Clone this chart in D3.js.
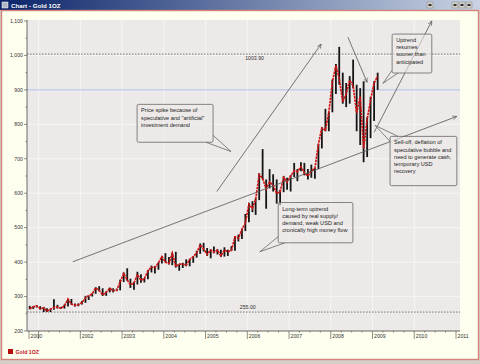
<!DOCTYPE html>
<html>
<head>
<meta charset="UTF-8">
<title>Chart - Gold 1OZ</title>
<script src="https://d3js.org/d3.v7.min.js"></script>
<style>
  body { margin: 0; background: #d4d0c8; }
  text { font-family: "Liberation Sans", Arial, sans-serif; }
</style>
</head>
<body>
<svg id="chart" width="480" height="364"></svg>
<script>
// monthly gold prices, Oct 2000 .. Feb 2009
var firstMonth = new Date(2000, 9, 15);
var closes = [
  265, 270, 273,
  265, 267, 258, 263, 268, 270, 266, 273, 293, 278, 274, 277,
  282, 297, 302, 308, 325, 318, 305, 312, 324, 317, 318, 342,
  367, 348, 334, 339, 364, 347, 352, 375, 385, 384, 398, 416,
  400, 396, 426, 387, 394, 394, 391, 408, 416, 426, 450, 438,
  422, 435, 428, 435, 418, 435, 430, 434, 473, 469, 495, 513,
  568, 556, 582, 654, 643, 613, 633, 623, 599, 604, 646, 632,
  650, 665, 662, 677, 659, 650, 665, 672, 743, 789, 783, 834,
  923, 971, 933, 865, 888, 928, 912, 833, 880, 730, 815, 870,
  920, 940
];
var highs = [
  273, 272, 275,
  272, 270, 266, 265, 292, 276, 270, 277, 293, 293, 280, 280,
  287, 302, 303, 309, 327, 330, 324, 315, 326, 324, 323, 349,
  370, 382, 352, 342, 372, 365, 354, 377, 390, 389, 399, 417,
  426, 415, 427, 430, 394, 398, 408, 409, 417, 433, 454, 456,
  441, 437, 445, 437, 436, 443, 436, 446, 476, 480, 497, 540,
  572, 577, 584, 658, 728, 640, 670, 655, 640, 610, 650, 645,
  653, 688, 670, 690, 688, 670, 683, 673, 743, 792, 845, 836,
  930, 975, 1025, 950, 920, 940, 988, 915, 905, 925, 820, 880,
  925, 950
];
var lows = [
  263, 264, 268,
  262, 255, 255, 255, 262, 265, 264, 265, 271, 276, 271, 272,
  277, 282, 290, 300, 308, 315, 302, 302, 312, 312, 316, 318,
  342, 346, 325, 320, 335, 340, 341, 350, 370, 367, 378, 396,
  399, 393, 391, 384, 375, 383, 388, 388, 398, 413, 424, 431,
  418, 411, 426, 422, 415, 416, 418, 432, 433, 460, 467, 490,
  516, 545, 537, 580, 640, 555, 614, 605, 570, 565, 603, 610,
  605, 647, 635, 664, 652, 640, 645, 642, 670, 730, 780, 780,
  835, 888, 915, 860, 850, 860, 905, 780, 740, 690, 705, 760,
  810, 900
];

var yTicks = [200, 300, 400, 500, 600, 700, 800, 900, 1000, 1100];
var xTickYears = [2000.77, 2001, 2002, 2003, 2004, 2005, 2006, 2007, 2008, 2009, 2010, 2011];
var xTickLabels = ["2000", "", "2002", "2003", "2004", "2005", "2006", "2007", "2008", "2009", "2010", "2011"];

var refLines = [
  { value: 1003.90, label: "1003.90", labelAt: 2005.95, style: "dot" },
  { value: 900, label: "", style: "blue" },
  { value: 255.00, label: "255.00", labelAt: 2005.82, style: "dot" }
];

// annotations, in (decimal year, price) coordinates
var arrows = [
  { from: [2001.82, 401], to: [2011.02, 823] },
  { from: [2005.27, 605], to: [2007.77, 1033] },
  { from: [2009.04, 777], to: [2010.42, 1100] },
  { from: [2008.41, 1053], to: [2008.87, 922] }
];
var notes = [
  { x0: 2003.36, y0: 858, x1: 2005.18, y1: 748,
    lines: ["Price spike because of", "speculative and \"artificial\"", "investment demand"],
    tip: [2005.61, 721], b1: [2005.01, 748], b2: [2005.18, 768] },
  { x0: 2009.47, y0: 1062, x1: 2010.42, y1: 949,
    lines: ["Uptrend", "resumes", "sooner than", "anticipated"],
    tip: [2009.25, 919], b1: [2009.47, 957], b2: [2009.61, 949] },
  { x0: 2009.42, y0: 765, x1: 2011.02, y1: 622,
    lines: ["Sell-off, deflation of", "speculative bubble and", "need to generate cash,", "temporary USD", "recovery"],
    tip: [2009.06, 797], b1: [2009.44, 748], b2: [2009.61, 765] },
  { x0: 2006.74, y0: 573, x1: 2008.53, y1: 456,
    lines: ["Long-term uptrend", "caused by real supply/", "demand, weak USD and", "cronically high money flow"],
    tip: [2006.30, 430], b1: [2006.74, 474], b2: [2006.90, 456] }
];

var svg = d3.select("#chart");
var W = 480, H = 364;
var plot = { left: 27, right: 460, top: 20, bottom: 331 };

// window frame + title bar
var defs = svg.append("defs");
var grad = defs.append("linearGradient").attr("id", "titleGrad");
grad.append("stop").attr("offset", "0%").attr("stop-color", "#0a246a");
grad.append("stop").attr("offset", "100%").attr("stop-color", "#c9d3e3");
defs.append("marker").attr("id", "arrowHead")
  .attr("viewBox", "0 0 10 10").attr("refX", 9).attr("refY", 5)
  .attr("markerWidth", 6).attr("markerHeight", 6).attr("orient", "auto")
  .append("path").attr("d", "M0,1 L9,5 L0,9").attr("fill", "none")
  .attr("stroke", "#555").attr("stroke-width", 1.3);

svg.append("rect").attr("width", W).attr("height", H).attr("fill", "#d4d0c8");
svg.append("rect").attr("x", 0).attr("y", 0).attr("width", W).attr("height", 10).attr("fill", "url(#titleGrad)");
svg.append("rect").attr("x", 2).attr("y", 2).attr("width", 6).attr("height", 6).attr("fill", "#b0b8c8").attr("stroke", "#fff").attr("stroke-width", 0.5);
svg.append("text").attr("x", 11).attr("y", 7.5).attr("fill", "#fff")
  .attr("font-size", 6.2).attr("font-weight", "bold").text("Chart - Gold 1OZ");
[427, 452, 459, 466].forEach(function(bx) {
  svg.append("rect").attr("x", bx).attr("y", 2).attr("width", 6).attr("height", 6)
    .attr("fill", "#d4d0c8").attr("stroke", "#777").attr("stroke-width", 0.4);
  svg.append("rect").attr("x", bx + 1.5).attr("y", 4).attr("width", 3).attr("height", 2).attr("fill", "#333");
});
svg.append("rect").attr("x", 1.5).attr("y", 10.5).attr("width", W - 3).attr("height", 349)
  .attr("fill", "#fffff0").attr("stroke", "#d4827a").attr("stroke-width", 1.4);

// scales
function toDate(i) { return d3.timeMonth.offset(firstMonth, i); }
function yearFrac(dt) {
  var y = dt.getFullYear();
  var s = new Date(y, 0, 1), e = new Date(y + 1, 0, 1);
  return y + (dt - s) / (e - s);
}
var x = d3.scaleLinear().domain([2000.77, 2011.0]).range([29, 456]);
var y = d3.scaleLinear().domain([200, 1100]).range([plot.bottom, 21]);

var data = closes.map(function(c, i) {
  return { t: yearFrac(toDate(i)), close: c, high: highs[i], low: lows[i] };
});

// plot background and grid
svg.append("rect").attr("x", plot.left).attr("y", plot.top)
  .attr("width", plot.right - plot.left).attr("height", plot.bottom - plot.top)
  .attr("fill", "#ece9e8");
svg.append("g").selectAll("line").data(d3.range(2001, 2011)).enter().append("line")
  .attr("x1", function(d) { return x(d); }).attr("x2", function(d) { return x(d); })
  .attr("y1", plot.top).attr("y2", plot.bottom)
  .attr("stroke", "#f7f5f4").attr("stroke-width", 1);
svg.append("g").selectAll("line").data(yTicks.slice(1, -1)).enter().append("line")
  .attr("x1", plot.left).attr("x2", plot.right)
  .attr("y1", function(d) { return y(d); }).attr("y2", function(d) { return y(d); })
  .attr("stroke", "#f7f5f4").attr("stroke-width", 1);

// reference lines
refLines.forEach(function(r) {
  svg.append("line").attr("x1", plot.left).attr("x2", plot.right)
    .attr("y1", y(r.value)).attr("y2", y(r.value))
    .attr("stroke", r.style === "blue" ? "#a9bde8" : "#555")
    .attr("stroke-width", r.style === "blue" ? 1 : 0.8)
    .attr("stroke-dasharray", r.style === "dot" ? "1.5,1.5" : null);
  if (r.label) {
    svg.append("text").attr("x", x(r.labelAt))
      .attr("y", r.value > 600 ? y(r.value) + 5.5 : y(r.value) - 3)
      .attr("font-size", 5.2).attr("fill", "#333").text(r.label);
  }
});

// price: black high-low bars, red close line
svg.append("g").selectAll("line").data(data).enter().append("line")
  .attr("x1", function(d) { return x(d.t); }).attr("x2", function(d) { return x(d.t); })
  .attr("y1", function(d) { return y(d.low); }).attr("y2", function(d) { return y(d.high); })
  .attr("stroke", "#151515").attr("stroke-width", 1.8);
svg.append("path").datum(data)
  .attr("d", d3.line().x(function(d) { return x(d.t); }).y(function(d) { return y(d.close); }))
  .attr("fill", "none").attr("stroke", "#d11414").attr("stroke-width", 1.7)
  .attr("stroke-dasharray", "2.5,0.8");

// axes
var yAxis = svg.append("g");
yAxis.append("line").attr("x1", plot.left).attr("x2", plot.left)
  .attr("y1", plot.top).attr("y2", plot.bottom).attr("stroke", "#444").attr("stroke-width", 0.8);
yAxis.selectAll(".minor").data(d3.range(250, 1100, 100)).enter().append("line")
  .attr("x1", plot.left - 1.5).attr("x2", plot.left)
  .attr("y1", function(d) { return y(d); }).attr("y2", function(d) { return y(d); })
  .attr("stroke", "#444").attr("stroke-width", 0.6);
yAxis.selectAll(".major").data(yTicks).enter().append("line")
  .attr("x1", plot.left - 3).attr("x2", plot.left)
  .attr("y1", function(d) { return y(d); }).attr("y2", function(d) { return y(d); })
  .attr("stroke", "#444").attr("stroke-width", 0.6);
yAxis.selectAll("text").data(yTicks).enter().append("text")
  .attr("x", plot.left - 4).attr("y", function(d) { return y(d) + 1.8; })
  .attr("text-anchor", "end").attr("font-size", 5.2).attr("fill", "#333")
  .text(function(d) { return d3.format(",")(d); });

var xAxis = svg.append("g");
xAxis.append("line").attr("x1", plot.left).attr("x2", plot.right)
  .attr("y1", plot.bottom).attr("y2", plot.bottom).attr("stroke", "#444").attr("stroke-width", 0.8);
var quarters = [];
d3.range(2001, 2011).forEach(function(yr) { quarters.push(yr + 0.25, yr + 0.5, yr + 0.75); });
xAxis.selectAll(".minor").data(quarters).enter().append("line")
  .attr("x1", function(d) { return x(d); }).attr("x2", function(d) { return x(d); })
  .attr("y1", plot.bottom).attr("y2", plot.bottom + 1.5)
  .attr("stroke", "#444").attr("stroke-width", 0.6);
xAxis.selectAll(".major").data(xTickYears).enter().append("line")
  .attr("x1", function(d) { return x(d); }).attr("x2", function(d) { return x(d); })
  .attr("y1", plot.bottom).attr("y2", plot.bottom + 8)
  .attr("stroke", "#444").attr("stroke-width", 0.6);
xAxis.selectAll("text").data(xTickYears).enter().append("text")
  .attr("x", function(d) { return x(d) + 1.5; }).attr("y", plot.bottom + 6.5)
  .attr("font-size", 5.2).attr("fill", "#333")
  .text(function(d, i) { return xTickLabels[i]; });

// annotations
var ann = svg.append("g");
arrows.forEach(function(a) {
  ann.append("line")
    .attr("x1", x(a.from[0])).attr("y1", y(a.from[1]))
    .attr("x2", x(a.to[0])).attr("y2", y(a.to[1]))
    .attr("stroke", "#555").attr("stroke-width", 0.8)
    .attr("marker-end", "url(#arrowHead)");
});
notes.forEach(function(n) {
  var bx = x(n.x0), by = y(n.y0), bw = x(n.x1) - bx, bh = y(n.y1) - by;
  ann.append("path")
    .attr("d", "M" + x(n.b1[0]) + "," + y(n.b1[1]) + "L" + x(n.tip[0]) + "," + y(n.tip[1]) +
      "L" + x(n.b2[0]) + "," + y(n.b2[1]))
    .attr("fill", "#ece9e8").attr("stroke", "#555").attr("stroke-width", 0.7);
  ann.append("rect").attr("x", bx).attr("y", by).attr("width", bw).attr("height", bh)
    .attr("rx", 1.5).attr("fill", "#ece9e8").attr("fill-opacity", 0.6)
    .attr("stroke", "#555").attr("stroke-width", 0.7);
  n.lines.forEach(function(t, i) {
    ann.append("text").attr("x", bx + 4).attr("y", by + 8 + i * 7.2)
      .attr("font-size", 5.6).attr("fill", "#222").text(t);
  });
});

// legend
svg.append("rect").attr("x", 8).attr("y", 349).attr("width", 5).attr("height", 5).attr("fill", "#b50d0d");
svg.append("text").attr("x", 15.5).attr("y", 353.5).attr("font-size", 5.2)
  .attr("font-weight", "bold").attr("fill", "#c01010").text("Gold 1OZ");
</script>
</body>
</html>
